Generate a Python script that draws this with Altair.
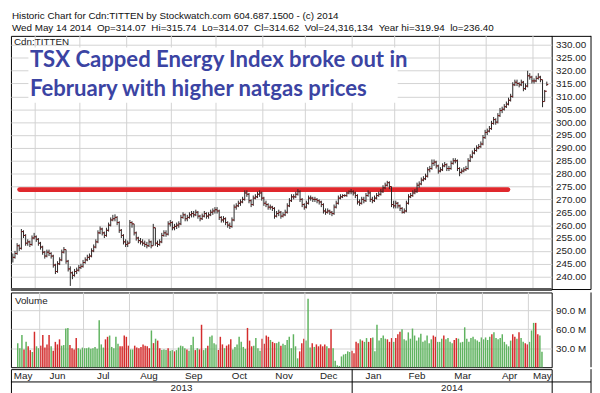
import altair as alt
import pandas as pd

# ---------------- data ----------------
month_names = ["May", "Jun", "Jul", "Aug", "Sep", "Oct", "Nov", "Dec",
               "Jan", "Feb", "Mar", "Apr", "May"]
month_days = [11, 21, 22, 21, 21, 22, 20, 22, 20, 21, 22, 22, 7]
year_names = ["2013", "2014"]
year_month_counts = [8, 5]

close = [
    247.5, 249, 252, 251, 257.5, 256, 253, 253.5, 252.5, 255,
    255.5, 254.5, 253, 251.5, 249.5, 248, 249.5, 249, 248, 244.5,
    242, 245, 246.5, 249.5, 250.5, 246, 243, 241.5, 240.5, 242,
    242.5, 243.5, 244, 245.5, 246.5, 247.5, 248, 250, 251.5, 253.5,
    257, 258.5, 257, 256, 258, 260, 262, 262.5, 263, 261,
    258, 256, 253.5, 252.5, 253, 261, 260.5, 257, 255, 254,
    253.5, 253, 252.5, 252, 253.5, 252, 259, 253, 252.5, 253.5,
    256, 257, 256.5, 260.5, 261, 259, 259.5, 260, 260.5, 263,
    264, 262.5, 263, 264, 264.5, 264, 265, 263.5, 262.5, 263.5,
    264.5, 263.5, 264, 265, 265.5, 266, 265.5, 263, 262, 262.5,
    261, 260, 259.5, 262, 267, 267.5, 268.5, 269, 270, 272.5,
    272, 269.5, 268, 270.5, 271, 272, 272.5, 270.5, 268.5, 268,
    267, 267, 266.5, 263.5, 264.5, 265, 263.5, 264, 265, 267.5,
    269.5, 271, 271, 272, 273, 270, 268, 267, 268.5, 270.5,
    270.5, 270, 270, 269.5, 269, 268, 265.5, 265, 265.5, 265,
    264.5, 267, 268.5, 270.5, 271, 271.5, 271.5, 272.5, 273, 273,
    272.5, 271.5, 269, 268.5, 270, 269.5, 271.5, 272.5, 270, 269.5,
    270.5, 271.5, 272, 273, 274.5, 275.5, 276.5, 275, 268, 267.5,
    268.5, 267.5, 266.5, 265, 265.5, 268.5, 271, 271.5, 272.5, 273,
    275.5, 276, 277.5, 278, 279, 281.5, 282, 284, 284.5, 283,
    281, 281.5, 283, 283.5, 282, 282, 284, 285, 285, 282,
    280.5, 281, 281.5, 282, 285, 286.5, 288, 289, 290, 290.5,
    291.5, 294, 296, 296.5, 297.5, 299.5, 301, 300, 302.5, 304.5,
    305, 306, 307, 308.5, 310, 314.5, 315.5, 315, 314.5, 315.5,
    313, 314, 318, 317.5, 316, 316, 317, 317.5, 316.5, 308,
    312, 314.62,
]

high = [
    249, 250, 253, 252.5, 258.5, 258, 256.5, 254.5, 254, 256,
    257, 256, 255, 253.5, 252, 250, 250.5, 250.5, 249.5, 248.5,
    245, 246, 247.5, 250.5, 251.5, 250.5, 246.5, 244, 242, 243,
    243.5, 244.5, 245, 246.5, 247.5, 248.5, 249, 251, 252.5, 254.5,
    258, 259.5, 259, 257.5, 259, 261, 263, 264, 264.2, 263.5,
    261.5, 258.5, 256.5, 254.5, 254, 262, 261.5, 260.5, 257.5, 255.5,
    255, 254.5, 254, 253.5, 254.5, 254, 260.5, 259, 254, 254.5,
    257, 258, 258, 261.5, 262, 261.5, 260.5, 261, 261.5, 264,
    265, 264.5, 264, 265, 265.5, 265.5, 266, 265.5, 264, 264.5,
    265.5, 265, 265, 266, 266.5, 267, 267, 266, 263.5, 263.5,
    263, 261.5, 261, 263, 268, 268.5, 269.5, 270, 271, 273.5,
    273.5, 272.5, 270, 271.5, 272, 273, 273.5, 273, 271, 269.5,
    268.5, 268, 267.5, 267, 265.5, 266, 265.5, 265, 266, 268.5,
    270.5, 272, 272, 273, 274, 273.5, 270.5, 268.5, 269.5, 271.5,
    271.5, 271, 271, 270.5, 270, 269.5, 268.5, 266.5, 266.5, 266,
    265.5, 268, 269.5, 271.5, 272, 272, 272, 273, 273.5, 274,
    273.5, 273, 272, 270, 271, 271, 272.5, 273.5, 273, 271,
    271.5, 272.5, 273, 274, 275.5, 276.5, 277.2, 277, 275, 269.5,
    269.5, 269, 268, 267, 266.5, 269.5, 272, 272.5, 273.5, 274,
    276.5, 277, 278.5, 279, 280, 282.5, 283, 285.5, 285.5, 285,
    283.5, 282.5, 284, 284.5, 284, 283, 285, 286, 286, 285.5,
    282.5, 282, 282.5, 283, 286, 287.5, 289, 290, 291, 291.5,
    292.5, 295, 297, 297.5, 298.5, 300.5, 302, 301.5, 303.5, 305.5,
    306, 307, 308, 309.5, 311, 315.5, 316.5, 316.5, 315.5, 316.5,
    316, 315, 319.94, 319, 318, 317, 318, 319, 318, 316.5,
    312.5, 315.74,
]

low = [
    245.5, 247, 248.5, 250, 250.5, 255, 252, 252, 251.5, 252,
    254.5, 253.5, 252, 250.5, 248.5, 247, 247.5, 248, 247, 243.5,
    241, 241.5, 244.5, 246, 249, 245, 242, 236.4, 239, 240,
    241, 242, 243, 243.5, 245, 246, 246.5, 247.5, 249.5, 251,
    253, 256.5, 256, 255, 255.5, 257.5, 259.5, 261.5, 261.5, 260,
    257, 255, 252.5, 251.5, 251.5, 253, 259, 256, 254, 253,
    252.5, 252, 251.5, 251, 251.5, 251, 252, 252, 251.5, 252,
    253, 255.5, 255.5, 256, 259.5, 258, 258, 258.5, 259, 260,
    262.5, 261.5, 261.5, 262.5, 263, 263, 263.5, 262.5, 261.5, 262,
    263, 262.5, 262.5, 263.5, 264, 264.5, 264.5, 262, 261, 261,
    260, 259, 258.5, 259, 261.5, 266, 267, 267.5, 268.5, 269.5,
    271, 268.5, 267, 267.5, 270, 270.5, 271, 269.5, 267.5, 267,
    266, 266, 265.5, 262.5, 263, 263.5, 262.5, 263, 263.5, 264.5,
    267, 269, 270, 270.5, 271.5, 269, 267, 266, 266.5, 268,
    269.5, 269, 269, 268.5, 268, 267, 264.5, 264, 264.5, 264,
    263.5, 264, 266.5, 268, 270, 270.5, 271, 271, 272, 272,
    271.5, 270.5, 268, 267.5, 268, 268.5, 269, 271, 269, 268.5,
    269, 270, 271, 271.5, 272.5, 274, 275, 274, 267, 266.5,
    266.5, 266.5, 265.5, 264.5, 264.5, 265, 268, 270.5, 271, 272,
    272.5, 274.5, 275.5, 277, 277.5, 278.5, 280.5, 281.5, 283, 282,
    280, 280.5, 281, 282.5, 281, 281, 281.5, 283.5, 284, 281,
    279, 280, 280.5, 281, 281.5, 284.5, 286, 287.5, 288.5, 289.5,
    290, 291, 293.5, 295, 296, 297, 299, 299, 299.5, 302,
    303.5, 304.5, 305.5, 306.5, 308, 309.5, 314, 314, 313.5, 314,
    312, 312.5, 313.5, 316.5, 315, 315, 315.5, 316.5, 315.5, 305.8,
    308, 314.07,
]

volume = [
    38, 30, 51, 28, 40, 33, 27, 24, 56, 33,
    30, 34, 51, 31, 36, 51, 33, 26, 40, 36,
    44, 34, 35, 61, 62, 35, 30, 28, 46, 30,
    28, 31, 30, 30, 31, 29, 30, 32, 29, 74,
    36, 31, 44, 48, 50, 32, 30, 48, 37, 33,
    33, 50, 48, 34, 28, 28, 34, 31, 30, 32,
    36, 34, 33, 30, 58, 38, 45, 42, 30, 27,
    28, 27, 30, 26, 27, 25, 27, 31, 34, 33,
    30, 28, 26, 35, 48, 27, 30, 28, 67, 27,
    30, 34, 48, 50, 38, 36, 27, 48, 36, 30,
    34, 36, 44, 28, 32, 36, 48, 40, 32, 29,
    62, 42, 33, 34, 46, 30, 26, 45, 37, 50,
    48, 43, 40, 38, 38, 40, 34, 37, 35, 43,
    48, 30, 52, 33, 14, 25, 38, 45, 42, 108,
    31, 38, 32, 36, 33, 36, 33, 36, 33, 30,
    60, 30, 10, 3, 2, 17, 20, 21, 25, 24,
    26, 22, 40, 38, 44, 42, 40, 46, 40, 46,
    47, 25, 67, 42, 46, 50, 45, 44, 40, 46,
    40, 46, 52, 56, 60, 44, 42, 55, 45, 61,
    50, 42, 47, 53, 40, 42, 50, 38, 44, 50,
    48, 40, 40, 45, 50, 44, 46, 40, 38, 43,
    46, 45, 39, 40, 63, 45, 40, 46, 48, 44,
    42, 40, 47, 44, 47, 43, 48, 52, 55, 46,
    44, 46, 52, 40, 36, 33, 42, 52, 48, 45,
    55, 46, 40, 38, 36, 40, 58, 70, 70, 52,
    50, 24.3,
]

breakout_level = [273.8]
breakout_span = [3.2, 232.7]

NB = "\u00a0"
header_lines = [
    "Historic Chart for Cdn:TITTEN by Stockwatch.com 604.687.1500 - (c) 2014",
    ("Wed May 14 2014" + NB + NB + "Op=314.07" + NB + NB + "Hi=315.74" + NB + NB +
     "Lo=314.07" + NB + NB + "Cl=314.62" + NB + NB + "Vol=24,316,134" + NB + NB +
     "Year hi=319.94" + NB + NB + "lo=236.40"),
]
note_lines = ["TSX Capped Energy Index broke out in",
              "February with higher natgas prices"]
price_ticks = list(range(240, 331, 5))
volume_ticks = [30, 60, 90]

# ---------------- layout ----------------
W = 550
HP = 258
HV = 76
HT = 26
X_MIN, X_MAX = -0.9, 253.3
COL = 40
GRID = "#d2d2d2"
FONT = "Liberation Sans"

xscale = alt.Scale(domain=[X_MIN, X_MAX], nice=False, zero=False)
pscale = alt.Scale(domain=[235, 333.5], nice=False, zero=False)
vscale = alt.Scale(domain=[0, 118], nice=False)

PAXIS = alt.Axis(orient="right", values=price_ticks, format=".2f", grid=True,
                 gridColor=GRID, ticks=False, domain=False, labelFontSize=10,
                 labelFont=FONT, labelColor="#222", labelPadding=4, title=None)
VAXIS = alt.Axis(orient="right", values=volume_ticks,
                 labelExpr="format(datum.value, '.1f') + ' M'", grid=True,
                 gridColor=GRID, ticks=False, domain=False, labelFontSize=10,
                 labelFont=FONT, labelColor="#222", labelPadding=4, title=None)

n = len(close)
df = pd.DataFrame({"day": list(range(n)), "close": close, "high": high,
                   "low": low, "volume": volume})

# month boundaries
starts, ends = [], []
c = 0
for i, d in enumerate(month_days):
    s = X_MIN if i == 0 else c - 0.5
    c += d
    e = X_MAX if i == len(month_days) - 1 else c - 0.5
    starts.append(s)
    ends.append(e)
mdf = pd.DataFrame({"name": month_names, "start": starts, "end": ends})
mdf["mid"] = (mdf["start"] + mdf["end"]) / 2
gdf = pd.DataFrame({"x": ends[:-1]})

ys, ye, k = [], [], 0
for cnt in year_month_counts:
    ys.append(starts[k])
    ye.append(ends[k + cnt - 1])
    k += cnt
ydf = pd.DataFrame({"name": year_names, "start": ys, "end": ye})
ydf["mid"] = (ydf["start"] + ydf["end"]) / 2


def X(f):
    return alt.X(f, scale=xscale, axis=None)


def PY(f):
    return alt.Y(f, scale=pscale, axis=PAXIS)


def VY(f):
    return alt.Y(f, scale=vscale, axis=VAXIS)


one = pd.DataFrame({"k": [0]})

# ---------------- price panel ----------------
vgrid_p = alt.Chart(gdf).mark_rule(color=GRID, strokeWidth=1).encode(
    x=X("x:Q"), y=alt.value(0), y2=alt.value(HP))

box = alt.Chart(pd.DataFrame({"x1": [7.3], "x2": [180.9], "y1": [307.5], "y2": [329.0]})).mark_rect(
    color="white").encode(x=X("x1:Q"), x2="x2:Q", y=PY("y1:Q"), y2="y2:Q")

level = alt.Chart(pd.DataFrame({"x1": [breakout_span[0]], "x2": [breakout_span[1]],
                                "y": breakout_level})).mark_rule(
    color="#e0282d", strokeWidth=5, strokeCap="round").encode(
    x=X("x1:Q"), x2="x2:Q", y=PY("y:Q"))

base = alt.Chart(df).transform_window(prev="lag(close)", sort=[alt.SortField("day")])

hl = base.mark_rule(color="#262626", strokeWidth=1).encode(
    x=X("day:Q"), y=PY("low:Q"), y2="high:Q")

cl_tick = base.transform_calculate(a="datum.day", b="datum.day + 0.7").mark_rule(
    color="#6e1616", strokeWidth=1).encode(
    x=X("a:Q"), x2="b:Q", y=PY("close:Q"))

op_tick = base.transform_filter("datum.prev != null").transform_calculate(
    a="datum.day - 0.7", b="datum.day").mark_rule(
    color="#6e1616", strokeWidth=1).encode(
    x=X("a:Q"), x2="b:Q", y=PY("prev:Q"))

sym = alt.Chart(pd.DataFrame({"t": ["Cdn:TITTEN"]})).mark_text(
    align="left", baseline="middle", font=FONT, fontSize=10, color="#222").encode(
    text="t:N", x=alt.value(3), y=alt.value(6))

notes = alt.Chart(pd.DataFrame({"t": note_lines, "x": [8.0, 8.0], "y": [321.3, 310.0]})).mark_text(
    align="left", baseline="alphabetic", font="Lato", fontWeight="bold",
    fontSize=22.5, color="#3b44a3").encode(
    text="t:N", x=X("x:Q"), y=PY("y:Q"))

frame_p = alt.Chart(one).mark_rule(color="#000", strokeWidth=1).encode(
    x=alt.value(W + COL), y=alt.value(0), y2=alt.value(HP))
top_p = alt.Chart(one).mark_rule(color="#000", strokeWidth=1).encode(
    x=alt.value(W), x2=alt.value(W + COL), y=alt.value(0.5))
sep_p = alt.Chart(one).mark_rule(color="#5a5a5a", strokeWidth=3).encode(
    x=alt.value(0), x2=alt.value(W), y=alt.value(HP))
sep_c = alt.Chart(one).mark_rule(color="#000", strokeWidth=1).encode(
    x=alt.value(W), x2=alt.value(W + COL), y=alt.value(HP))

price = alt.layer(vgrid_p, box, level, hl, op_tick, cl_tick, sym, notes,
                  frame_p, top_p, sep_p, sep_c).properties(width=W, height=HP)

# ---------------- volume panel ----------------
vgrid_v = alt.Chart(gdf).mark_rule(color=GRID, strokeWidth=1).encode(
    x=X("x:Q"), y=alt.value(0), y2=alt.value(HV))

vbars = base.transform_calculate(
    dir="datum.prev == null || datum.close >= datum.prev ? 'up' : 'down'").mark_bar(
    size=1.5).encode(
    x=X("day:Q"), y=VY("volume:Q"),
    color=alt.Color("dir:N", scale=alt.Scale(domain=["up", "down"],
                                             range=["#5fb35f", "#d42c2c"]), legend=None))

vlabel = alt.Chart(pd.DataFrame({"t": ["Volume"]})).mark_text(
    align="left", baseline="middle", font=FONT, fontSize=10, color="#222").encode(
    text="t:N", x=alt.value(4), y=alt.value(9))

frame_v = alt.Chart(one).mark_rule(color="#000", strokeWidth=1).encode(
    x=alt.value(W + COL), y=alt.value(0), y2=alt.value(HV))

vol = alt.layer(vbars, vgrid_v, vlabel, frame_v).properties(width=W, height=HV)

# ---------------- timeline panel ----------------
mtext = alt.Chart(mdf).mark_text(baseline="middle", font=FONT, fontSize=10,
                                 color="#222").encode(
    text="name:N", x=X("mid:Q"), y=alt.value(6.5))
ytext = alt.Chart(ydf).mark_text(baseline="middle", font=FONT, fontSize=10,
                                 color="#222").encode(
    text="name:N", x=X("mid:Q"), y=alt.value(19.5))
mid_line = alt.Chart(one).mark_rule(color="#000", strokeWidth=1).encode(
    x=alt.value(0), x2=alt.value(W + COL), y=alt.value(13))
ysep = alt.Chart(ydf.iloc[1:]).mark_rule(color="#000", strokeWidth=1).encode(
    x=X("start:Q"), y=alt.value(0), y2=alt.value(HT))
frame_t = alt.Chart(one).mark_rule(color="#000", strokeWidth=1).encode(
    x=alt.value(W + COL), y=alt.value(0), y2=alt.value(HT))
bot_t = alt.Chart(one).mark_rule(color="#000", strokeWidth=1).encode(
    x=alt.value(W), x2=alt.value(W + COL), y=alt.value(HT - 0.5))

timeline = alt.layer(mtext, ytext, mid_line, ysep, frame_t, bot_t).properties(
    width=W, height=HT)

chart = alt.vconcat(price, vol, timeline, spacing=0).properties(
    title=alt.TitleParams(text=header_lines, anchor="start", font=FONT,
                          fontSize=10, fontWeight="normal", color="#111",
                          lineHeight=12, offset=2, dx=3),
    padding={"left": 1, "top": 0, "right": 0, "bottom": 0},
    background="white",
).configure_view(stroke="#000", strokeWidth=1).configure_concat(spacing=0)

chart.save("out.html", embed_options={"renderer": "svg", "actions": False})
